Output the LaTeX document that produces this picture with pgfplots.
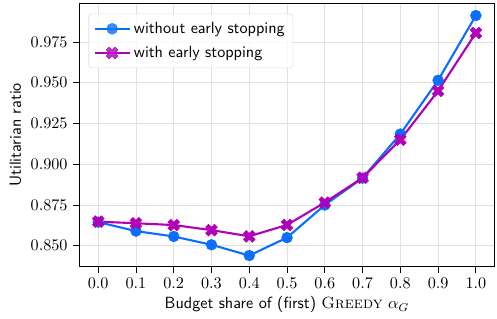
\documentclass[border=0pt]{standalone}
\usepackage{pgfplots}
\pgfplotsset{compat=1.18}
\definecolor{cblue}{RGB}{10,110,255}
\definecolor{cpurp}{RGB}{176,0,184}
\definecolor{gridc}{RGB}{224,224,224}
\pgfdeclareplotmark{Xfill}{%
  \pgfpathmoveto{\pgfqpoint{-0.5\pgfplotmarksize}{-1\pgfplotmarksize}}%
  \pgfpathlineto{\pgfqpoint{0\pgfplotmarksize}{-0.5\pgfplotmarksize}}%
  \pgfpathlineto{\pgfqpoint{0.5\pgfplotmarksize}{-1\pgfplotmarksize}}%
  \pgfpathlineto{\pgfqpoint{1\pgfplotmarksize}{-0.5\pgfplotmarksize}}%
  \pgfpathlineto{\pgfqpoint{0.5\pgfplotmarksize}{0\pgfplotmarksize}}%
  \pgfpathlineto{\pgfqpoint{1\pgfplotmarksize}{0.5\pgfplotmarksize}}%
  \pgfpathlineto{\pgfqpoint{0.5\pgfplotmarksize}{1\pgfplotmarksize}}%
  \pgfpathlineto{\pgfqpoint{0\pgfplotmarksize}{0.5\pgfplotmarksize}}%
  \pgfpathlineto{\pgfqpoint{-0.5\pgfplotmarksize}{1\pgfplotmarksize}}%
  \pgfpathlineto{\pgfqpoint{-1\pgfplotmarksize}{0.5\pgfplotmarksize}}%
  \pgfpathlineto{\pgfqpoint{-0.5\pgfplotmarksize}{0\pgfplotmarksize}}%
  \pgfpathlineto{\pgfqpoint{-1\pgfplotmarksize}{-0.5\pgfplotmarksize}}%
  \pgfpathclose
  \pgfusepathqfillstroke
}
\begin{document}
\begin{tikzpicture}
\begin{axis}[
  name=ax,
  scale only axis,
  width=256.7pt, height=163pt,
  xmin=-0.05, xmax=1.05,
  ymin=0.8371, ymax=0.9989,
  xtick={0,0.1,0.2,0.3,0.4,0.5,0.6,0.7,0.8,0.9,1.0},
  ytick={0.850,0.875,0.900,0.925,0.950,0.975},
  xticklabel style={/pgf/number format/.cd, fixed, fixed zerofill, precision=1},
  yticklabel style={/pgf/number format/.cd, fixed, fixed zerofill, precision=3},
  scaled y ticks=false,
  tick align=outside,
  tick pos=left,
  major tick length=3.7pt,
  tick style={black, line width=0.55pt},
  grid=major,
  major grid style={gridc, line width=0.55pt},
  axis line style={black, line width=0.55pt},
  xlabel={\sffamily Budget share of (first) {\rmfamily\textsc{Greedy}} $\alpha_G$},
  ylabel={\sffamily Utilitarian ratio},
  xlabel style={yshift=2pt},
  ylabel style={yshift=-1pt},
  legend style={at={(0.022,0.96)}, anchor=north west, draw=gray!25, rounded corners=2pt,
    fill=white, fill opacity=0.8, text opacity=1, font=\sffamily,
    row sep=2.5pt, inner xsep=3pt, inner ysep=3pt},
  legend cell align=left,
  legend image code/.code={\draw[mark repeat=2,mark phase=2] plot coordinates {(0cm,0cm) (0.38cm,0cm) (0.76cm,0cm)};},
]
\addplot[color=cblue, line width=1.3pt, mark=*, mark size=3.4pt, mark options={fill=cblue, draw=cblue, line width=0.2pt}]
coordinates {(0.0,0.8645) (0.1,0.8590) (0.2,0.8557) (0.3,0.8506) (0.4,0.8440) (0.5,0.8550) (0.6,0.8750) (0.7,0.8915) (0.8,0.9185) (0.9,0.9515) (1.0,0.9912)};
\addlegendentry{without early stopping}
\addplot[color=cpurp, line width=1.3pt, mark=Xfill, mark size=3.7pt, mark options={fill=cpurp, draw=cpurp, line width=0.2pt}]
coordinates {(0.0,0.8648) (0.1,0.8638) (0.2,0.8627) (0.3,0.8596) (0.4,0.8558) (0.5,0.8628) (0.6,0.8765) (0.7,0.8917) (0.8,0.9150) (0.9,0.9450) (1.0,0.9805)};
\addlegendentry{with early stopping}
\end{axis}
\pgfresetboundingbox
\path ([shift={(-49pt,-31.7pt)}]ax.south west) rectangle ([shift={(1.4pt,1.85pt)}]ax.north east);
\end{tikzpicture}
\end{document}
